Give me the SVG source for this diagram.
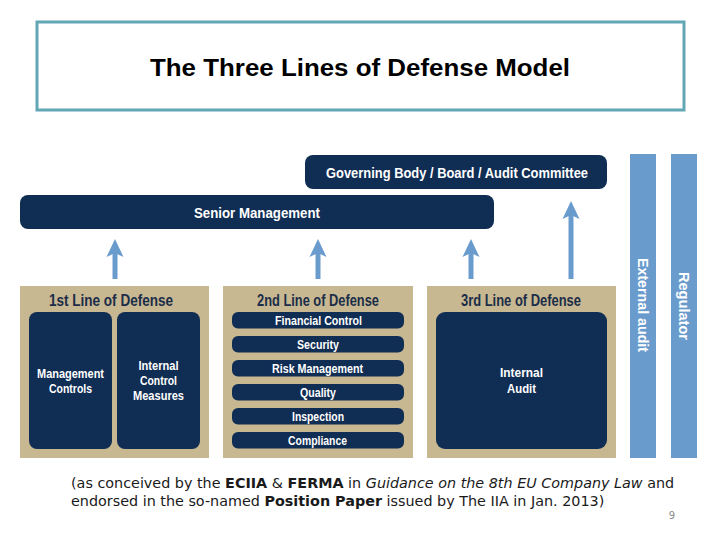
<svg xmlns="http://www.w3.org/2000/svg" width="720" height="540" viewBox="0 0 720 540">
<defs>
<style>
.navy{fill:#102d53}
.tan{fill:#c8b892}
.bar{fill:#6a9bcd}
.w{fill:#ffffff;font-family:"Liberation Sans",Arial,sans-serif;font-weight:bold;text-anchor:middle;dominant-baseline:central}
.h{fill:#1b2d48;font-family:"Liberation Sans",Arial,sans-serif;font-weight:bold;text-anchor:middle;dominant-baseline:central;font-size:16px}
.foot{font-family:"DejaVu Sans",sans-serif;font-size:14.35px;fill:#1a1a1a}
.arrow{stroke:#6a9bcd;stroke-width:5;fill:none}
</style>
<marker id="ah" markerUnits="userSpaceOnUse" markerWidth="18" markerHeight="18" viewBox="0 0 18 18" refX="5" refY="9" orient="auto">
<path d="M0,0.5 L18,9 L0,17.5 L4,9 z" fill="#6a9bcd"/>
</marker>
</defs>
<rect width="720" height="540" fill="#ffffff"/>
<g id="title">
<rect x="37" y="22" width="647" height="88" fill="#ffffff" stroke="#62a7b6" stroke-width="3"/>
<text x="360" y="68" font-family="Liberation Sans,Arial,sans-serif" font-weight="bold" font-size="23" text-anchor="middle" dominant-baseline="central" textLength="420" lengthAdjust="spacingAndGlyphs">The Three Lines of Defense Model</text>
</g>
<g id="governing">
<rect class="navy" x="305" y="155" width="302" height="34" rx="8"/>
<text class="w" x="457" y="172.5" font-size="15" textLength="262" lengthAdjust="spacingAndGlyphs">Governing Body / Board / Audit Committee</text>
</g>
<g id="senior">
<rect class="navy" x="20" y="195" width="474" height="34" rx="8"/>
<text class="w" x="257" y="212.5" font-size="15.5" textLength="126" lengthAdjust="spacingAndGlyphs">Senior Management</text>
</g>
<g id="connectors">
<line class="arrow" x1="115" y1="279" x2="115" y2="252" marker-end="url(#ah)"/>
<line class="arrow" x1="318" y1="279" x2="318" y2="252" marker-end="url(#ah)"/>
<line class="arrow" x1="471" y1="279" x2="471" y2="252" marker-end="url(#ah)"/>
<line class="arrow" x1="571" y1="279" x2="571" y2="214" marker-end="url(#ah)"/>
</g>
<g id="line1">
<rect class="tan" x="20" y="286" width="189" height="172"/>
<text class="h" x="111" y="300" textLength="124" lengthAdjust="spacingAndGlyphs">1st Line of Defense</text>
<rect class="navy" x="29" y="312" width="83" height="137" rx="8"/>
<text class="w" x="70.5" y="373" font-size="13" textLength="67" lengthAdjust="spacingAndGlyphs">Management</text>
<text class="w" x="70.5" y="388" font-size="13" textLength="43" lengthAdjust="spacingAndGlyphs">Controls</text>
<rect class="navy" x="117" y="312" width="83" height="137" rx="8"/>
<text class="w" x="158.5" y="365" font-size="13" textLength="40" lengthAdjust="spacingAndGlyphs">Internal</text>
<text class="w" x="158.5" y="380" font-size="13" textLength="37" lengthAdjust="spacingAndGlyphs">Control</text>
<text class="w" x="158.5" y="395" font-size="13" textLength="51" lengthAdjust="spacingAndGlyphs">Measures</text>
</g>
<g id="line2">
<rect class="tan" x="223" y="286" width="190" height="172"/>
<text class="h" x="318" y="300" textLength="122" lengthAdjust="spacingAndGlyphs">2nd Line of Defense</text>
<rect class="navy" x="232" y="312" width="172" height="16.5" rx="6"/>
<text class="w" x="318.5" y="320.5" font-size="13" textLength="87" lengthAdjust="spacingAndGlyphs">Financial Control</text>
<rect class="navy" x="232" y="336" width="172" height="16.5" rx="6"/>
<text class="w" x="318" y="344.5" font-size="13" textLength="42" lengthAdjust="spacingAndGlyphs">Security</text>
<rect class="navy" x="232" y="360" width="172" height="16.5" rx="6"/>
<text class="w" x="317.5" y="368.5" font-size="13" textLength="91" lengthAdjust="spacingAndGlyphs">Risk Management</text>
<rect class="navy" x="232" y="384" width="172" height="16.5" rx="6"/>
<text class="w" x="318" y="392.5" font-size="13" textLength="36" lengthAdjust="spacingAndGlyphs">Quality</text>
<rect class="navy" x="232" y="408" width="172" height="16.5" rx="6"/>
<text class="w" x="318" y="416.5" font-size="13" textLength="52" lengthAdjust="spacingAndGlyphs">Inspection</text>
<rect class="navy" x="232" y="432" width="172" height="16.5" rx="6"/>
<text class="w" x="317.5" y="440.5" font-size="13" textLength="59" lengthAdjust="spacingAndGlyphs">Compliance</text>
</g>
<g id="line3">
<rect class="tan" x="427" y="286" width="189" height="172"/>
<text class="h" x="521" y="300" textLength="120" lengthAdjust="spacingAndGlyphs">3rd Line of Defense</text>
<rect class="navy" x="436" y="312" width="171" height="137" rx="9"/>
<text class="w" x="521.5" y="372" font-size="13" textLength="43" lengthAdjust="spacingAndGlyphs">Internal</text>
<text class="w" x="521.5" y="388" font-size="13" textLength="29" lengthAdjust="spacingAndGlyphs">Audit</text>
</g>
<g id="external">
<rect class="bar" x="630" y="154" width="26" height="304"/>
<text class="w" font-size="15" transform="translate(643,305) rotate(90)" textLength="94" lengthAdjust="spacingAndGlyphs">External audit</text>
</g>
<g id="regulator">
<rect class="bar" x="671" y="154" width="26" height="304"/>
<text class="w" font-size="15" transform="translate(684,306) rotate(90)" textLength="68" lengthAdjust="spacingAndGlyphs">Regulator</text>
</g>
<g id="footnote">
<text class="foot" x="71" y="488">(as conceived by the <tspan font-weight="bold">ECIIA</tspan> &amp; <tspan font-weight="bold">FERMA</tspan> in <tspan font-style="italic">Guidance on the 8th EU Company Law</tspan> and</text>
<text class="foot" x="71" y="506">endorsed in the so-named <tspan font-weight="bold">Position Paper</tspan> issued by The IIA in Jan. 2013)</text>
<text x="672" y="519" font-family="DejaVu Sans,sans-serif" font-size="10" fill="#8c8c8c" text-anchor="middle">9</text>
</g>
</svg>
